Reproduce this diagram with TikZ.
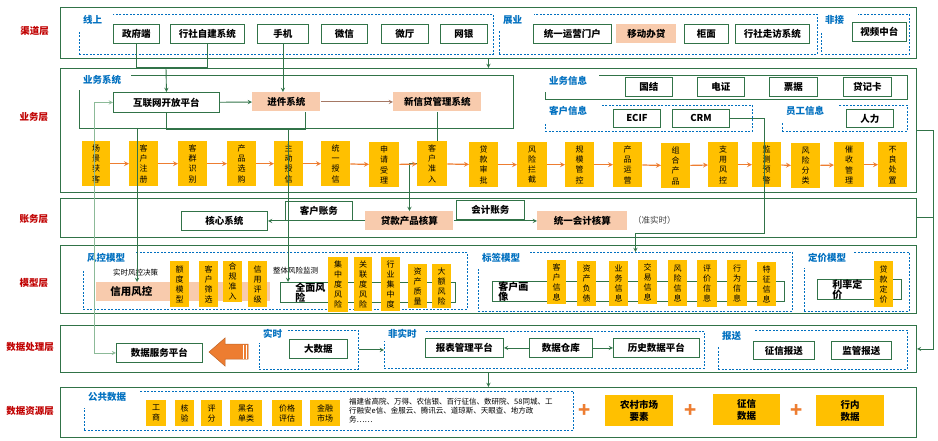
\documentclass[tikz,border=0pt]{standalone}
\usepackage{fontspec}
\setmainfont{Noto Sans CJK SC}
\usetikzlibrary{arrows}
\definecolor{lgreen}{RGB}{49,115,72}
\definecolor{softgreen}{RGB}{140,186,152}
\definecolor{gblue}{RGB}{0,112,192}
\definecolor{lred}{RGB}{192,0,0}
\definecolor{amber}{RGB}{255,192,0}
\definecolor{peach}{RGB}{248,203,173}
\definecolor{flame}{RGB}{237,125,49}
\definecolor{rust}{RGB}{165,120,100}

\tikzstyle{layerbox} = [rectangle, draw=lgreen, line width=0.9pt, inner sep=0pt, anchor=north west]
\tikzstyle{sysbox} = [
    rectangle,
    draw=lgreen,
    line width=0.9pt,
    fill=white,
    inner sep=0pt,
    minimum height=19pt,
    anchor=north west,
    font=\bfseries\fontsize{9.5}{11}\selectfont
]
\tikzstyle{hotbox} = [sysbox, draw=none, fill=peach]
\tikzstyle{flowbox} = [
    rectangle,
    fill=amber,
    inner sep=0pt,
    minimum width=29pt,
    minimum height=45pt,
    anchor=north west,
    align=center,
    font=\fontsize{8}{10.3}\selectfont
]
\tikzstyle{tagbox} = [flowbox, minimum width=19pt, minimum height=46pt, font=\fontsize{8}{10}\selectfont]
\tikzstyle{srcbox} = [flowbox, minimum height=26pt, font=\fontsize{8}{10}\selectfont]
\tikzstyle{bigsrc} = [flowbox, minimum height=31pt, font=\bfseries\fontsize{9.5}{11.5}\selectfont]
\tikzstyle{grpdash} = [rectangle, draw=gblue, line width=0.8pt, dash pattern=on 2pt off 1.5pt, inner sep=0pt, anchor=north west]
\tikzstyle{grpsolid} = [rectangle, draw=lgreen, line width=0.9pt, inner sep=0pt, anchor=north west]
\tikzstyle{grplabel} = [
    fill=white,
    anchor=north west,
    inner xsep=5pt,
    inner ysep=0pt,
    align=left,
    text height=7pt,
    text depth=4pt,
    text=gblue,
    font=\bfseries\fontsize{9.5}{11}\selectfont
]
\tikzstyle{layertitle} = [text=lred, font=\bfseries\fontsize{9.5}{11}\selectfont]
\tikzstyle{note} = [anchor=west, inner sep=0pt, font=\fontsize{7.5}{9}\selectfont]
\tikzstyle{plussign} = [text=flame, font=\bfseries\fontsize{20}{20}\selectfont]
\tikzstyle{gline} = [draw=lgreen, line width=0.9pt]
\tikzstyle{garrow} = [gline, ->, >=stealth]
\tikzstyle{oarrow} = [draw=flame, line width=1.2pt, ->, >=stealth]

% group frame: name, x1, y1, x2, y2, gap x, gap y, style, label
\newcommand{\grpbox}[9]{%
    \pgfmathsetmacro\gbw{#4-#2}\pgfmathsetmacro\gbh{#5-#3}%
    \pgfmathsetmacro\glw{#6-#2-8}\pgfmathsetmacro\glh{#7-#3+1}%
    \node (#1) [#8, minimum width=\gbw pt, minimum height=\gbh pt] at (#2,#3) {};
    \node (#1lbl) [grplabel, text width=\glw pt, minimum height=\glh pt] at (#2-1,#3-1) {#9};
}

\begin{document}
\begin{tikzpicture}[x=1pt, y=-1pt]
\useasboundingbox (0,0) rectangle (938,441);

% layers
\node (lqd) [layerbox, minimum width=856pt, minimum height=51pt] at (60,7) {};
\node (lyw) [layerbox, minimum width=856pt, minimum height=124pt] at (60,68) {};
\node (lzw) [layerbox, minimum width=856pt, minimum height=39pt] at (60,198) {};
\node (lmx) [layerbox, minimum width=856pt, minimum height=68pt] at (60,245) {};
\node (lcl) [layerbox, minimum width=856pt, minimum height=47pt] at (60,325) {};
\node (lzy) [layerbox, minimum width=856pt, minimum height=50pt] at (60,387) {};

\node (tqd) [layertitle] at (34.5,31) {渠道层};
\node (tyw) [layertitle] at (34,117) {业务层};
\node (tzw) [layertitle] at (34,219) {账务层};
\node (tmx) [layertitle] at (34,283) {模型层};
\node (tcl) [layertitle] at (30,347) {数据处理层};
\node (tzy) [layertitle] at (30,411) {数据资源层};

% groups
\grpbox{gxs}{79}{14}{493}{54}{112}{31}{grpdash}{线上}
\grpbox{gzyy}{499}{14}{817}{54}{533}{31}{grpdash}{展业}
\grpbox{gfj}{821}{14}{909}{54}{857}{31}{grpdash}{非接}
\grpbox{gywxt}{79}{75}{513}{128}{130}{90}{grpsolid}{业务系统}
\grpbox{gywxx}{545}{75}{907}{99}{598}{92}{grpsolid}{业务信息}
\grpbox{gkhxx}{545}{105}{752}{131}{601}{122}{grpdash}{客户信息}
\grpbox{gygxx}{782}{105}{907}{131}{837}{122}{grpdash}{员工信息}
\grpbox{gfk}{83}{252}{467}{309}{135}{269}{grpdash}{风控模型}
\grpbox{gbq}{478}{252}{792}{311}{528}{268}{grpdash}{标签模型}
\grpbox{gdj}{804}{252}{909}{311}{853}{268}{grpdash}{定价模型}
\grpbox{gss}{259}{330}{358}{369}{287}{343}{grpdash}{实时}
\grpbox{gfss}{384}{331}{704}{368}{425}{341}{grpdash}{非实时}
\grpbox{gbs}{718}{330}{907}{369}{753}{347}{grpdash}{报送}
\grpbox{ggg}{84}{391}{573}{430}{138}{408}{grpdash}{公共数据}

% channel layer
\node (zfd) [sysbox, minimum width=46pt] at (113,24) {政府端};
\node (hszj) [sysbox, minimum width=74pt] at (170,24) {行社自建系统};
\node (sj) [sysbox, minimum width=51pt] at (257,24) {手机};
\node (wx) [sysbox, minimum width=46pt] at (321,24) {微信};
\node (wt) [sysbox, minimum width=47pt] at (381,24) {微厅};
\node (wy) [sysbox, minimum width=47pt] at (440,24) {网银};
\node (tyyy) [sysbox, minimum width=78pt] at (533,24) {统一运营门户};
\node (ydbd) [hotbox, minimum width=60pt] at (616,24) {移动办贷};
\node (gm) [sysbox, minimum width=44pt] at (684,24) {柜面};
\node (hszf) [sysbox, minimum width=74pt] at (735,24) {行社走访系统};
\node (spzt) [sysbox, minimum width=54pt] at (852,22) {视频中台};

% business layer
\node (hlw) [sysbox, minimum width=106pt, minimum height=20pt] at (113,92) {互联网开放平台};
\node (jj) [hotbox, minimum width=68pt] at (252,92) {进件系统};
\node (xxd) [hotbox, minimum width=88pt] at (393,92) {新信贷管理系统};
\node (gj) [sysbox, minimum width=47pt] at (625,77) {国结};
\node (dz) [sysbox, minimum width=47pt] at (697,77) {电证};
\node (pj) [sysbox, minimum width=48pt] at (769,77) {票据};
\node (djk) [sysbox, minimum width=48pt] at (843,77) {贷记卡};
\node (ecif) [sysbox, minimum width=47pt, minimum height=18pt] at (613,109) {ECIF};
\node (crm) [sysbox, minimum width=57pt, minimum height=18pt] at (672,109) {CRM};
\node (rl) [sysbox, minimum width=47pt, minimum height=18pt] at (846,109) {人力};

\node (p1) [flowbox, minimum width=28pt] at (82,141) {场\\景\\获\\客};
\node (p2) [flowbox] at (129,141) {客\\户\\注\\册};
\node (p3) [flowbox] at (178,141) {客\\群\\识\\别};
\node (p4) [flowbox] at (227,141) {产\\品\\选\\购};
\node (p5) [flowbox] at (274,141) {主\\动\\授\\信};
\node (p6) [flowbox] at (321,141) {统\\一\\授\\信};
\node (p7) [flowbox, minimum width=30pt] at (369,142) {申\\请\\受\\理};
\node (p8) [flowbox, minimum width=30pt] at (417,141) {客\\户\\准\\入};
\node (p9) [flowbox] at (469,142) {贷\\款\\审\\批};
\node (p10) [flowbox, minimum width=30pt] at (517,142) {风\\险\\拦\\截};
\node (p11) [flowbox] at (565,142) {规\\模\\管\\控};
\node (p12) [flowbox] at (613,142) {产\\品\\运\\营};
\node (p13) [flowbox] at (661,143) {组\\合\\产\\品};
\node (p14) [flowbox, minimum width=30pt] at (708,142) {支\\用\\风\\控};
\node (p15) [flowbox] at (752,142) {监\\测\\预\\警};
\node (p16) [flowbox] at (791,143) {风\\险\\分\\类};
\node (p17) [flowbox, minimum width=30pt] at (834,142) {催\\收\\管\\理};
\node (p18) [flowbox] at (878,142) {不\\良\\处\\置};

% account layer
\node (hxxt) [sysbox, minimum width=86pt] at (181,211) {核心系统};
\node (khzw) [sysbox, minimum width=67pt] at (285,201) {客户账务};
\node (dkcp) [hotbox, minimum width=88pt] at (365,211) {贷款产品核算};
\node (kjzw) [sysbox, minimum width=68pt] at (456,200) {会计账务};
\node (tykj) [hotbox, minimum width=90pt] at (537,211) {统一会计核算};
\node (zss) [note, text=black!75, font=\fontsize{8.5}{10}\selectfont] at (633,220.5) {（准实时）};

% model layer
\node (sskj) [note] at (113,273) {实时风控决策};
\node (xyfk) [hotbox, minimum width=174pt, text width=146pt, inner xsep=14pt, align=left,
    font=\bfseries\fontsize{10.5}{11}\selectfont] at (96,282) {信用风控};
\node (edmx) [tagbox] at (170,261) {额\\度\\模\\型};
\node (khsx) [tagbox] at (199,261) {客\\户\\筛\\选};
\node (hgzr) [tagbox, minimum height=41pt] at (223,261) {合\\规\\准\\入};
\node (xypj) [tagbox] at (248,261) {信\\用\\评\\级};
\node (ztjc) [note] at (273,271) {整体风险监测};
\node (qmfx) [sysbox, minimum height=20pt, text width=145pt, inner xsep=15pt, align=left,
    font=\bfseries\fontsize{10}{10.5}\selectfont] at (280,282) {全面风\\险};
\node (jzdfx) [tagbox, minimum width=20pt, minimum height=55pt] at (328,257) {集\\中\\度\\风\\险};
\node (glfx) [tagbox, minimum width=18pt, minimum height=54pt] at (354,257) {关\\联\\度\\风\\险};
\node (hyjz) [tagbox, minimum height=54pt] at (381,257) {行\\业\\集\\中\\度};
\node (zczl) [tagbox, minimum height=44pt] at (408,264) {资\\产\\质\\量};
\node (defx) [tagbox, minimum height=44pt] at (432,264) {大\\额\\风\\险};

\node (khhx) [sysbox, text width=280pt, inner xsep=6pt, align=left,
    font=\bfseries\fontsize{10}{10.5}\selectfont] at (492,281) {客户画\\像};
\node (t1) [tagbox, minimum height=44pt] at (547,260) {客\\户\\信\\息};
\node (t2) [tagbox, minimum height=45pt] at (577,261) {资\\产\\负\\债};
\node (t3) [tagbox, minimum height=45pt] at (609,261) {业\\务\\信\\息};
\node (t4) [tagbox, minimum height=44pt] at (638,260) {交\\易\\信\\息};
\node (t5) [tagbox] at (668,260) {风\\险\\信\\息};
\node (t6) [tagbox, minimum width=20pt, minimum height=47pt] at (697,260) {评\\价\\信\\息};
\node (t7) [tagbox, minimum width=20pt] at (727,260) {行\\为\\信\\息};
\node (t8) [tagbox, minimum height=44pt] at (757,262) {特\\征\\信\\息};

\node (lldj) [sysbox, text width=54pt, inner xsep=15pt, align=left,
    font=\bfseries\fontsize{10}{10.5}\selectfont] at (817,279) {利率定\\价};
\node (dkdj) [tagbox] at (874,261) {贷\\款\\定\\价};

% data processing layer
\node (sjfw) [sysbox, minimum width=86pt] at (116,343) {数据服务平台};
\node (dsj) [sysbox, minimum width=58pt] at (289,339) {大数据};
\node (bbgl) [sysbox, minimum width=78pt] at (425,338) {报表管理平台};
\node (sjck) [sysbox, minimum width=63pt] at (529,338) {数据仓库};
\node (lssj) [sysbox, minimum width=86pt] at (613,338) {历史数据平台};
\node (zxbs) [sysbox, minimum width=61pt, minimum height=18pt] at (753,341) {征信报送};
\node (jgbs) [sysbox, minimum width=60pt, minimum height=18pt] at (831,341) {监管报送};

% big arrow towards the data service platform
\draw [fill=flame, draw=flame!80!black, line width=0.5pt]
    (248,344) -- (225,344) -- (225,338) -- (209,352) -- (225,366) -- (225,359) -- (248,359) -- cycle;
\draw [white, line width=0.7pt] (243.5,344.5) -- (243.5,358.5);
\draw [white, line width=0.7pt] (246,344.5) -- (246,358.5);

% data resource layer
\node (gs) [srcbox, minimum width=20pt] at (146,400) {工\\商};
\node (hy) [srcbox, minimum width=19pt] at (175,400) {核\\验};
\node (pf) [srcbox, minimum width=21pt] at (201,400) {评\\分};
\node (hmd) [srcbox, minimum width=32pt] at (230,400) {黑名\\单类};
\node (jgpg) [srcbox, minimum width=30pt] at (272,400) {价格\\评估};
\node (jrsc) [srcbox, minimum width=30pt] at (310,400) {金融\\市场};
\node (srcnote) [anchor=north west, inner sep=0pt, align=left, font=\fontsize{7.5}{9}\selectfont]
    at (349,397.5) {福建省高院、万得、农信银、百行征信、数研院、58同城、工\\行融安e信、金服云、腾讯云、道琼斯、天眼查、地方政\\务……};
\node (pl1) [plussign] at (585,411) {+};
\node (ncsc) [bigsrc, minimum width=68pt] at (605,395) {农村市场\\要素};
\node (pl2) [plussign] at (691,411) {+};
\node (zxsj) [bigsrc, minimum width=67pt] at (713,394) {征信\\数据};
\node (pl3) [plussign] at (797,411) {+};
\node (hnsj) [bigsrc, minimum width=68pt] at (816,395) {行内\\数据};

% connectors
\coordinate (chjoin) at (166,67.5);
\draw [gline] (zfd.south) |- (chjoin);
\draw [gline] (hszj.south) |- (chjoin);
\draw [garrow] (chjoin) -- (hlw.north);
\draw [garrow] (sj.south) -- (sj.south |- jj.north);
\draw [garrow] (lqd) -- (lyw);

\draw [garrow] (hlw) -- (jj);
\draw [draw=rust, line width=0.9pt, ->, >=stealth] (jj) -- (xxd);
\coordinate (jjloop) at (305,129);
\draw [gline] (hlw.south) |- (jjloop) -- (jjloop |- jj.south);
\coordinate (jjdrop) at (288,129);
\draw [garrow] (jjdrop) -- (jjdrop |- qmfx.north);
\coordinate (ywxtout) at (137,128);
\draw [garrow] (ywxtout) -- (ywxtout |- xyfk.north);
\draw [draw=softgreen, line width=0.9pt, <->, >=stealth] (hlw.west) -- ++(-19,0) |- (sjfw.west);

\draw [gline] (xxd.south) -- (xxd.south |- p8.north);
\draw [garrow] (p8.west) -| (dkcp.north);
\coordinate (crmturn) at (764,233);
\draw [garrow] (crm.east) -| (crmturn) -| (gbq.north);

\draw [oarrow] (p1) -- (p2);
\draw [oarrow] (p2) -- (p3);
\draw [oarrow] (p3) -- (p4);
\draw [oarrow] (p4) -- (p5);
\draw [oarrow] (p5) -- (p6);
\draw [oarrow] (p6) -- (p7);
\draw [oarrow] (p7) -- (p8);
\draw [oarrow] (p8) -- (p9);
\draw [oarrow] (p9) -- (p10);
\draw [oarrow] (p10) -- (p11);
\draw [oarrow] (p11) -- (p12);
\draw [oarrow] (p12) -- (p13);
\draw [oarrow] (p13) -- (p14);
\draw [oarrow] (p14) -- (p15);
\draw [oarrow] (p15) -- (p16);
\draw [oarrow] (p16) -- (p17);
\draw [oarrow] (p17) -- (p18);

\draw [garrow] (dkcp) -- (hxxt);
\draw [garrow] (dkcp) -- (tykj);

\draw [garrow] (gss) -- (gfss);
\draw [garrow] (sjck) -- (bbgl);
\draw [garrow] (sjck) -- (lssj);
\draw [garrow] (lcl) -- (lzy);

\draw [garrow] (lyw.east) -- ++(17,0) |- (lcl.east);
\draw [gline] (lzw.east) -- ++(17,0);

\end{tikzpicture}
\end{document}
